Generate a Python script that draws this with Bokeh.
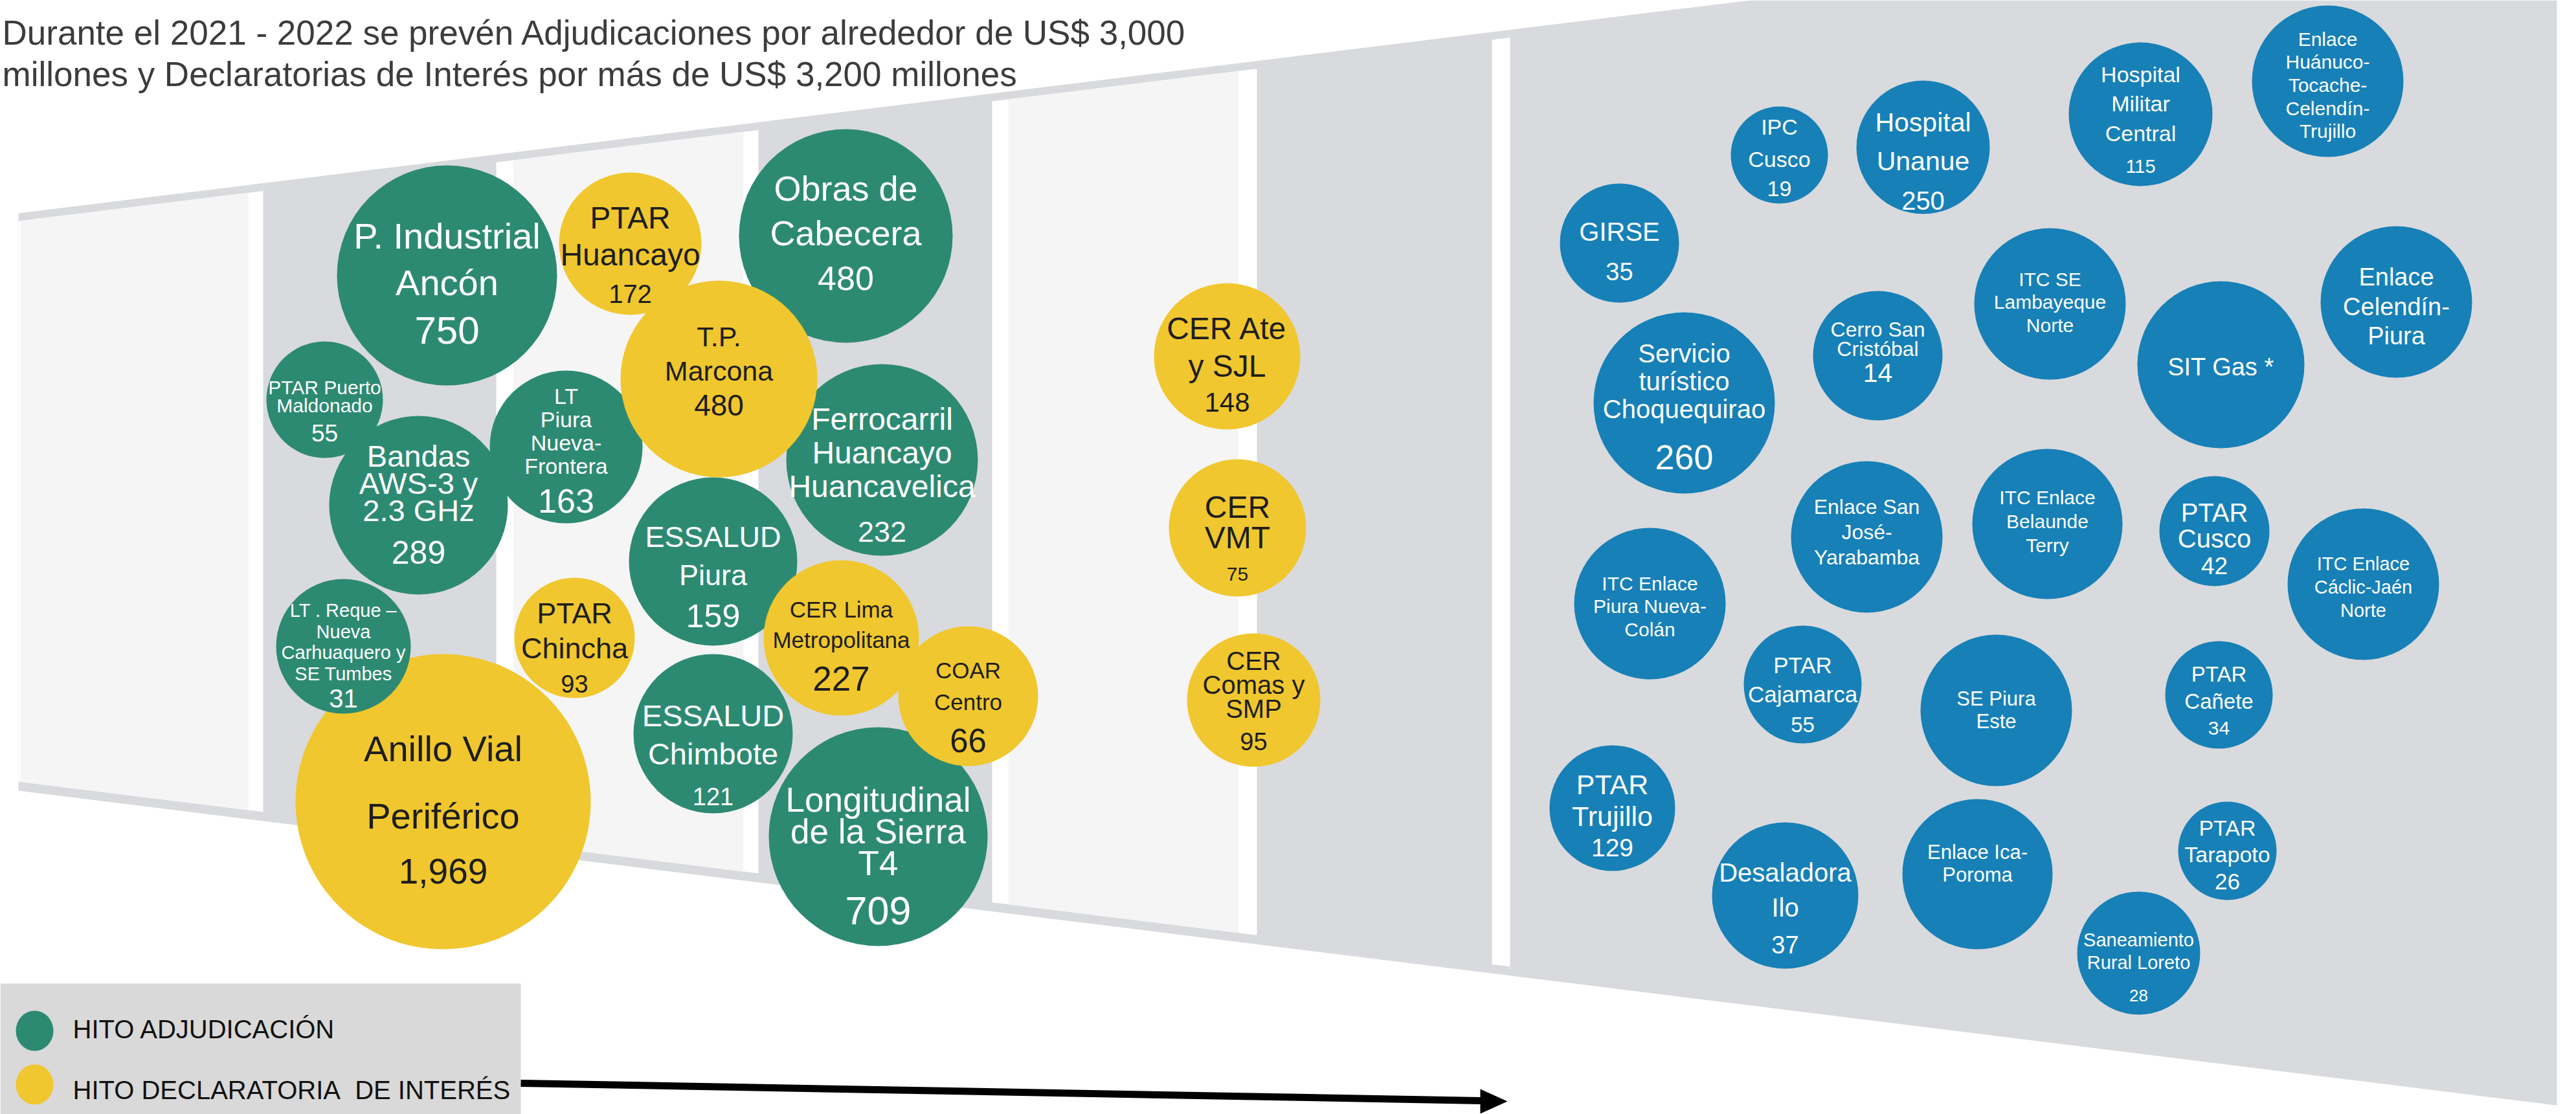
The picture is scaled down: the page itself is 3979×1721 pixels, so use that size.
from bokeh.plotting import figure
from bokeh.models import Range1d, ColumnDataSource
from bokeh.core.properties import value, field
from bokeh.embed import file_html
from bokeh.resources import INLINE

# ---------------- data ----------------
TITLE_LINES = ["Durante el 2021 - 2022 se prevén Adjudicaciones por alrededor de US$ 3,000",
               "millones y Declaratorias de Interés por más de US$ 3,200 millones"]

PROJECTS = [
    "PTAR Puerto\nMaldonado", "Bandas\nAWS-3 y\n2.3 GHz", "LT\nPiura\nNueva-\nFrontera",
    "P. Industrial\nAncón", "Obras de\nCabecera", "PTAR\nHuancayo",
    "Ferrocarril\nHuancayo\nHuancavelica", "T.P.\nMarcona", "ESSALUD\nPiura",
    "CER Lima\nMetropolitana", "Longitudinal\nde la Sierra\nT4", "COAR\nCentro",
    "ESSALUD\nChimbote", "PTAR\nChincha", "Anillo Vial\nPeriférico",
    "LT . Reque –\nNueva\nCarhuaquero y\nSE Tumbes", "CER Ate\ny SJL", "CER\nVMT",
    "CER\nComas y\nSMP",
    "IPC\nCusco", "Hospital\nUnanue", "Hospital\nMilitar\nCentral",
    "Enlace\nHuánuco-\nTocache-\nCelendín-\nTrujillo", "GIRSE", "Cerro San\nCristóbal",
    "ITC SE\nLambayeque\nNorte", "SIT Gas *", "Enlace\nCelendín-\nPiura",
    "Servicio\nturístico\nChoquequirao", "Enlace San\nJosé-\nYarabamba",
    "ITC Enlace\nBelaunde\nTerry", "PTAR\nCusco", "ITC Enlace\nCáclic-Jaén\nNorte",
    "ITC Enlace\nPiura Nueva-\nColán", "PTAR\nCajamarca", "SE Piura\nEste",
    "PTAR\nCañete", "PTAR\nTrujillo", "Desaladora\nIlo", "Enlace Ica-\nPoroma",
    "PTAR\nTarapoto", "Saneamiento\nRural Loreto",
]
VALUES = [55, 289, 163, 750, 480, 172, 232, 480, 159, 227, 709, 66, 121, 93, 1969, 31,
          148, 75, 95,
          19, 250, 115, None, 35, 14, None, None, None, 260, None, None, 42, None, None,
          55, None, 34, 129, 37, None, 26, 28]
HITO = (["adj", "adj", "adj", "adj", "adj", "dec", "adj", "dec", "adj", "dec", "adj", "dec",
         "adj", "dec", "dec", "adj", "dec", "dec", "dec"] + ["otro"] * 23)
LEGEND_LABELS = ["HITO ADJUDICACIÓN", "HITO DECLARATORIA\u00a0 DE INTERÉS"]

# ---------------- layout (positions / sizes, screen px) ----------------
BX = [501, 646, 874, 690, 1306, 973, 1362, 1110, 1101, 1299, 1356, 1495, 1101, 887, 684, 530,
      1895, 1911, 1936,
      2748, 2970, 3306, 3595, 2501, 2900, 3166, 3430, 3701, 2601, 2883, 3162, 3420, 3650, 2548,
      2784, 3083, 3427, 2490, 2757, 3054, 3440, 3303]
BY = [617, 780, 690, 425, 364, 376, 710, 585, 867, 985, 1292, 1075, 1133, 985, 1238, 998,
      550, 815, 1081,
      239, 227, 176, 125, 375, 549, 469, 563, 466, 622, 829, 809, 820, 902, 932,
      1057, 1097, 1073, 1248, 1383, 1350, 1314, 1472]
BR = [90, 138, 118, 170, 165, 110, 148, 152, 130, 120, 169, 108, 123, 93, 228, 104,
      113, 106, 103,
      75, 103, 111, 117, 92, 100, 117, 129, 117, 140, 117, 116, 85, 117, 117,
      91, 117, 83, 97, 113, 116, 76, 95]
NAME_SIZE = [30, 47, 34, 56, 54, 48, 48, 43, 45, 35, 53, 35, 47, 45, 56, 29,
             48, 48, 40,
             34, 41, 34, 30, 40, 32, 30, 38, 38, 40, 32, 30, 40, 29, 30,
             35, 31, 33, 43, 40, 31, 34, 29]
NAME_FIRST = [-8, -58, -66, -40, -53, -22, -45, -49, -21, -31, -37, -27, -10, -21, -61, -44,
              -25, -14, -45,
              -31, -23, -49, -54, -2, -28, -27, 18, -24, -61, -34, -30, -13, -20, -20,
              -17, -6, -19, -20, -20, -22, -23, -9]
NAME_STEP = [28, 42, 36, 72, 69, 57, 52, 53, 59, 47, 49, 49, 59, 54, 104, 32.5,
             58, 47, 37,
             50, 60, 45.5, 35.7, 0, 30, 35.5, 0, 45.5, 43, 39, 37, 40, 36, 35.5,
             45, 35, 42, 49, 54, 35, 41, 35]
VAL_SIZE = [37, 50, 52, 60, 52, 40, 45, 46, 50, 53, 61, 51, 38, 38, 55, 40,
            42, 30, 38,
            34, 40, 29, 0, 38, 41, 0, 0, 0, 54, 0, 0, 37, 0, 0,
            33, 0, 30, 39, 38, 0, 35, 26]
VAL_OFS = [66, 92, 103, 108, 85, 93, 128, 58, 103, 83, 138, 88, 111, 85, 128, 96,
           87, 83, 78,
           65, 98, 92, 0, 58, 42, 0, 0, 0, 105, 0, 0, 68, 0, 0,
           75, 0, 63, 76, 90, 0, 61, 75]

FILL = {"adj": "#2D8A72", "dec": "#F0C72E", "otro": "#1780B7"}
INK = {"adj": "#FFFFFF", "dec": "#1E1E1E", "otro": "#FFFFFF"}
FONT = "Liberation Sans"
BASE_FIX = 0.38  # baseline correction, fraction of font size


def base(y, size):
    return y - BASE_FIX * size


W, H = 3979, 1721
p = figure(width=W, height=H, x_range=Range1d(0, W), y_range=Range1d(H, 0),
           x_axis_type=None, y_axis_type=None, toolbar_location=None,
           output_backend="svg", min_border=0, outline_line_color=None,
           background_fill_color="white", border_fill_color="white")

# ---------------- background wall ----------------
def top(x):
    return 329 - 0.123 * (x - 28)

def bot(x):
    return 1221 + 0.124 * (x - 28)

x0, x1 = 28, 3949
xz = 28 + 329 / 0.123
p.patch([x0, xz, x1, x1, x0], [top(x0), 0, 0, bot(x1), bot(x0)],
        fill_color="#D9DADD", line_color=None)

def panel(a, b, color):
    return dict(xs=[a, b, b, a], ys=[top(a) + 12, top(b) + 12, bot(b) - 14, bot(a) - 14], c=color)

pans = [panel(28, 406, "#FFFFFF"), panel(766, 1171, "#FFFFFF"), panel(1532, 1941, "#FFFFFF"),
        panel(2304, 2332, "#FFFFFF"),
        panel(31, 383, "#F5F5F5"), panel(792, 1148, "#F5F5F5"), panel(1557, 1913, "#F5F5F5")]
p.patches([q["xs"] for q in pans], [q["ys"] for q in pans],
          fill_color=[q["c"] for q in pans], line_color=None)

# ---------------- legend box & arrow ----------------
p.quad(left=[0], right=[804], top=[1519], bottom=[H], fill_color="#D9D9D9", line_color=None)
p.ellipse(x=[53, 53], y=[1592, 1675], width=[58, 58], height=[62, 62],
          fill_color=[FILL["adj"], FILL["dec"]], line_color=None)
p.text(x=[112, 112], y=[base(1605, 40), base(1699, 40)], text=LEGEND_LABELS,
       text_font=value(FONT), text_font_size="40px", text_color="#111111",
       text_baseline="alphabetic")
p.line([804, 2292], [1673, 1700], line_width=11, color="black")
p.patch([2286, 2328, 2286], [1682, 1701, 1720], fill_color="black", line_color=None)

# ---------------- bubbles ----------------
src = ColumnDataSource(dict(x=BX, y=BY, r=BR, c=[FILL[h] for h in HITO]))
p.circle(x="x", y="y", radius="r", fill_color="c", line_color=None, source=src)

tx, ty, tt, ts, tc = [], [], [], [], []
for i, name in enumerate(PROJECTS):
    ink = INK[HITO[i]]
    for j, ln in enumerate(name.split("\n")):
        tx.append(BX[i]); ty.append(base(BY[i] + NAME_FIRST[i] + j * NAME_STEP[i], NAME_SIZE[i]))
        tt.append(ln); ts.append(f"{NAME_SIZE[i]}px"); tc.append(ink)
    if VALUES[i] is not None:
        tx.append(BX[i]); ty.append(base(BY[i] + VAL_OFS[i], VAL_SIZE[i]))
        tt.append(f"{VALUES[i]:,}"); ts.append(f"{VAL_SIZE[i]}px"); tc.append(ink)
tsrc = ColumnDataSource(dict(x=tx, y=ty, t=tt, s=ts, c=tc))
p.text(x="x", y="y", text="t", text_font=value(FONT), text_font_size=field("s"),
       text_color="c", text_align="center", text_baseline="alphabetic", source=tsrc)

# ---------------- title ----------------
p.text(x=[3, 3], y=[base(70, 53), base(134, 53)], text=TITLE_LINES, text_font=value(FONT),
       text_font_size="53px", text_color="#3C3C3C", text_baseline="alphabetic")

open("out.html", "w").write(file_html(p, INLINE))
